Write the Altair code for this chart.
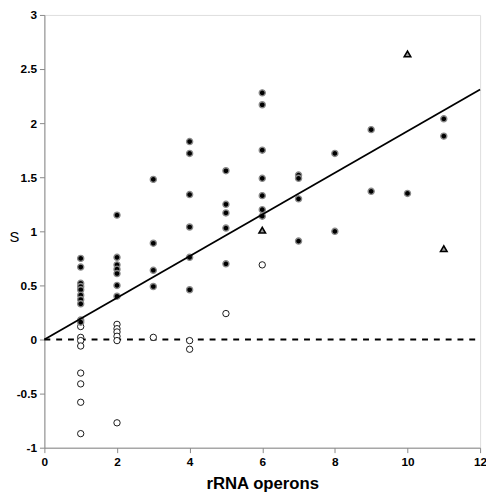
import altair as alt
import pandas as pd

# --- data ---
filled_x = [1]*10 + [2]*7 + [3]*4 + [4]*6 + [5]*5 + [6]*7 + [7]*4 + [8]*2 + [9]*2 + [10] + [11]*2
filled_s = [0.75, 0.67, 0.52, 0.49, 0.46, 0.41, 0.37, 0.33, 0.18, 0.16,
            1.15, 0.76, 0.69, 0.65, 0.61, 0.50, 0.40,
            1.48, 0.89, 0.64, 0.49,
            1.83, 1.72, 1.34, 1.04, 0.76, 0.46,
            1.56, 1.25, 1.17, 1.03, 0.70,
            2.28, 2.17, 1.75, 1.49, 1.33, 1.20, 1.14,
            1.52, 1.49, 1.30, 0.91,
            1.72, 1.00,
            1.94, 1.37,
            1.35,
            2.04, 1.88]

open_x = [1]*8 + [2]*6 + [3] + [4]*2 + [5] + [6]
open_s = [0.12, 0.02, -0.01, -0.06, -0.31, -0.41, -0.58, -0.87,
          0.14, 0.10, 0.07, 0.03, -0.01, -0.77,
          0.02,
          -0.01, -0.09,
          0.24,
          0.69]

tri_x = [6, 10, 11]
tri_s = [1.01, 2.64, 0.84]

fit_x = [0, 12]
fit_s = [0.0, 2.31]

zero_x = [0, 12]
zero_s = [0, 0]

x_ticks = [0, 2, 4, 6, 8, 10, 12]
y_ticks = [-1, -0.5, 0, 0.5, 1, 1.5, 2, 2.5, 3]

filled_df = pd.DataFrame({"x": filled_x, "s": filled_s})
open_df = pd.DataFrame({"x": open_x, "s": open_s})
tri_df = pd.DataFrame({"x": tri_x, "s": tri_s})
fit_df = pd.DataFrame({"x": fit_x, "s": fit_s})
zero_df = pd.DataFrame({"x": zero_x, "s": zero_s})

xs = alt.Scale(domain=[0, 12], nice=False, zero=False)
ys = alt.Scale(domain=[-1, 3], nice=False, zero=False)

X = alt.X("x:Q", scale=xs,
          axis=alt.Axis(values=x_ticks, title="rRNA operons", grid=False,
                        labelExpr="'' + datum.value",
                        titleFontSize=17, titleFontWeight="bold",
                        titleY=36, titleBaseline="middle",
                        labelFontSize=12, labelFontWeight="bold",
                        labelPadding=4, labelFlush=False))
Y = alt.Y("s:Q", scale=ys,
          axis=alt.Axis(values=y_ticks, title="S", grid=False,
                        labelExpr="'' + datum.value",
                        titleAngle=0, titleFontSize=15, titleFontWeight="normal",
                        titleX=-31, titleY=225, titleAlign="center",
                        titleBaseline="middle",
                        labelFontSize=12, labelFontWeight="bold",
                        labelPadding=3, labelFlush=False))

zero_line = alt.Chart(zero_df).mark_line(
    color="black", strokeWidth=2, strokeDash=[6, 6]
).encode(x=X, y=Y)

fit_line = alt.Chart(fit_df).mark_line(
    color="black", strokeWidth=1.8
).encode(x=X, y=Y)

open_pts = alt.Chart(open_df).mark_point(
    shape="circle", filled=True, fill="white", stroke="black",
    strokeWidth=0.9, size=42, opacity=1
).encode(x=X, y=Y)

filled_pts = alt.Chart(filled_df).mark_point(
    shape="circle", filled=True, fill="black", stroke="#8a8a8a",
    strokeWidth=1.4, size=38, opacity=1
).encode(x=X, y=Y)

tri_pts = alt.Chart(tri_df).mark_point(
    shape="triangle-up", filled=True, fill="#9a9a9a", stroke="black",
    strokeWidth=1.6, size=44, opacity=1
).encode(x=X, y=Y)

chart = alt.layer(zero_line, open_pts, filled_pts, tri_pts, fit_line).properties(
    width=443, height=440,
    padding={"left": 37, "top": 3, "right": 6, "bottom": 43},
    autosize=alt.AutoSizeParams(type="none")
).configure_view(
    stroke="black", strokeWidth=1.5
).configure_axis(
    domainColor="black", domainWidth=1.5, tickColor="black", tickWidth=1.5,
    tickSize=5, labelColor="black", titleColor="black",
    labelFont="Liberation Sans", titleFont="Liberation Sans"
).configure(background="white")

chart.save("out.html", embed_options={"renderer": "svg", "actions": False})
